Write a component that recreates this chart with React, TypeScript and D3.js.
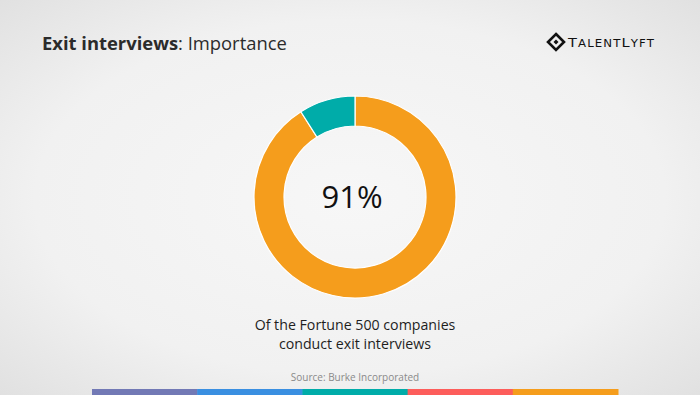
import * as d3 from 'd3'
import { useEffect, useRef } from 'react'

const sliceLabels = ['Conduct exit interviews', 'Do not']
const sliceValues = [91, 9]
const sliceColors = ['#f59d1c', '#00aca9']
const stripeColors = ['#7279b5', '#3a8fe1', '#00aca9', '#fd5d5b', '#f59d1c']

const WIDTH = 700
const HEIGHT = 395

const drawChart = (el: SVGSVGElement) => {
  const svg = d3.select(el)
  svg.selectAll('*').remove()

  const defs = svg.append('defs')
  const grad = defs.append('radialGradient')
    .attr('id', 'bg')
    .attr('cx', '50%').attr('cy', '50%').attr('r', '75%')
  grad.append('stop').attr('offset', '0%').attr('stop-color', '#f7f7f7')
  grad.append('stop').attr('offset', '60%').attr('stop-color', '#f1f1f1')
  grad.append('stop').attr('offset', '100%').attr('stop-color', '#dedede')

  svg.append('rect').attr('width', WIDTH).attr('height', HEIGHT).attr('fill', 'url(#bg)')

  // title
  const title = svg.append('text')
    .attr('x', 42).attr('y', 50)
    .attr('font-family', 'Open Sans, Noto Sans, sans-serif')
    .attr('font-size', 18.4)
    .attr('fill', '#2b2b2b')
  title.append('tspan').attr('font-weight', 700).text('Exit interviews')
  title.append('tspan').attr('font-weight', 400).text(': Importance')

  // logo
  const logo = svg.append('g').attr('transform', 'translate(556,42)')
  logo.append('path')
    .attr('d', 'M0,-8 L8,0 L0,8 L-8,0 Z')
    .attr('fill', 'none').attr('stroke', '#111').attr('stroke-width', 2.6)
  logo.append('path')
    .attr('d', 'M0,-2.5 L2.5,0 L0,2.5 L-2.5,0 Z')
    .attr('fill', '#111')
  const logoText = logo.append('text')
    .attr('x', 12).attr('y', 5)
    .attr('font-family', 'DejaVu Sans, sans-serif')
    .attr('letter-spacing', 1)
    .attr('fill', '#111')
    .attr('textLength', 87)
    .attr('lengthAdjust', 'spacingAndGlyphs')
  const parts: [string, number][] = [['T', 13], ['ALENT', 10.5], ['L', 13], ['YFT', 10.5]]
  parts.forEach(([t, s]) => logoText.append('tspan').attr('font-size', s).text(t))

  // donut
  const cx = 355
  const cy = 197
  const pie = d3.pie<number>().sort(null).value(d => d)
  const arc = d3.arc<d3.PieArcDatum<number>>().innerRadius(71).outerRadius(101)

  svg.append('g')
    .attr('transform', `translate(${cx},${cy})`)
    .selectAll('path')
    .data(pie(sliceValues))
    .join('path')
    .attr('d', arc)
    .attr('fill', (d, i) => sliceColors[i])
    .attr('stroke', '#ffffff')
    .attr('stroke-width', 1.2)
    .append('title').text((d, i) => sliceLabels[i])

  svg.append('text')
    .attr('x', cx - 3).attr('y', cy + 11)
    .attr('text-anchor', 'middle')
    .attr('font-family', 'Open Sans, Noto Sans, sans-serif')
    .attr('font-size', 31)
    .attr('fill', '#111')
    .text(`${sliceValues[0]}%`)

  const caption = ['Of the Fortune 500 companies', 'conduct exit interviews']
  svg.append('g').selectAll('text')
    .data(caption)
    .join('text')
    .attr('x', cx).attr('y', (d, i) => 330 + i * 19)
    .attr('text-anchor', 'middle')
    .attr('font-family', 'Open Sans, Noto Sans, sans-serif')
    .attr('font-size', 14.2)
    .attr('fill', '#1e1e1e')
    .text(d => d)

  svg.append('text')
    .attr('x', cx).attr('y', 381)
    .attr('text-anchor', 'middle')
    .attr('font-family', 'Open Sans, Noto Sans, sans-serif')
    .attr('font-size', 10)
    .attr('fill', '#8a8a8a')
    .text('Source: Burke Incorporated')

  // bottom stripe
  const x = d3.scaleBand<number>()
    .domain(d3.range(stripeColors.length))
    .range([92, 618])
  svg.append('g').selectAll('rect')
    .data(stripeColors)
    .join('rect')
    .attr('x', (d, i) => x(i)!)
    .attr('y', 389)
    .attr('width', x.bandwidth() + 0.5)
    .attr('height', 6)
    .attr('fill', d => d)
}

export default function App() {
  const ref = useRef<SVGSVGElement>(null)
  useEffect(() => {
    if (ref.current) drawChart(ref.current)
  }, [])
  return (
    <svg ref={ref} width={WIDTH} height={HEIGHT}
      style={{ position: 'absolute', left: 0, top: 0, display: 'block' }} />
  )
}
